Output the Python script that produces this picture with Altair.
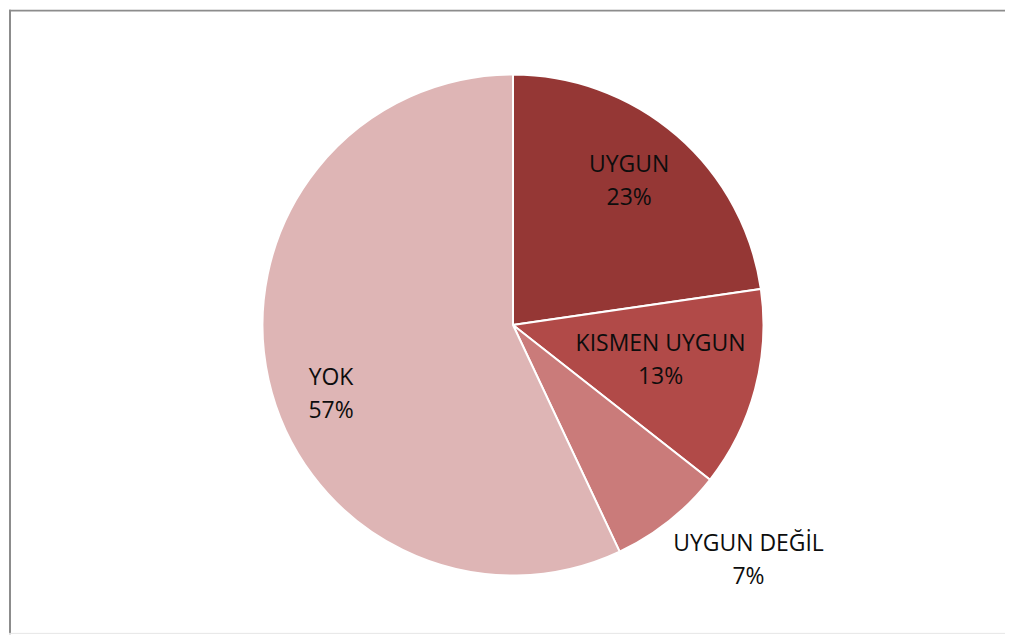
import altair as alt
import pandas as pd

categories = ["UYGUN", "KISMEN UYGUN", "UYGUN DEĞİL", "YOK"]
values = [22.7, 12.9, 7.4, 57.0]
colors = ["#953735", "#B14A48", "#CA7B7A", "#DEB5B5"]

total = sum(values)
labels = [f"{c}\n{round(v / total * 100)}%" for c, v in zip(categories, values)]
df = pd.DataFrame({"cat": categories, "val": values, "label": labels,
                   "order": list(range(len(categories)))})

CX, CY, R = 505, 316, 251
W, H = 998, 626

base = alt.Chart(df).encode(
    theta=alt.Theta("val:Q", stack=True),
    order=alt.Order("order:Q"),
)

shadow = alt.Chart(pd.DataFrame({"v": [1]})).mark_arc(
    outerRadius=R + 1.5, color="#cfcfcf"
).encode(theta=alt.Theta("v:Q"), x=alt.value(CX + 1), y=alt.value(CY + 1))

pie = base.mark_arc(outerRadius=R, stroke="white", strokeWidth=2).encode(
    color=alt.Color("cat:N", scale=alt.Scale(domain=categories, range=colors), legend=None),
    x=alt.value(CX), y=alt.value(CY),
)

label_style = dict(font="Open Sans", fontSize=23, lineBreak="\n", lineHeight=33,
                   color="#0d0d0d", align="center", baseline="middle")
# per-label radius and offsets (style)
label_pos = {
    "UYGUN": (184, -4, -21),
    "KISMEN UYGUN": (153, 0, -20),
    "UYGUN DEĞİL": (334, 28, -42),
    "YOK": (195, 8, 11),
}
text_layers = []
for cat, (r, dx, dy) in label_pos.items():
    text_layers.append(
        base.mark_text(radius=r, dx=dx, dy=dy, **label_style).encode(
            text="label:N", x=alt.value(CX), y=alt.value(CY),
            opacity=alt.condition(alt.datum.cat == cat, alt.value(1), alt.value(0)),
        )
    )

border_left = alt.Chart(pd.DataFrame({"v": [0]})).mark_rule(color="#8c8c8c", strokeWidth=2).encode(
    x=alt.value(1), y=alt.value(0), y2=alt.value(H))
border_top = alt.Chart(pd.DataFrame({"v": [0]})).mark_rule(color="#8c8c8c", strokeWidth=2).encode(
    x=alt.value(0), x2=alt.value(W), y=alt.value(1))
border_bottom = alt.Chart(pd.DataFrame({"v": [0]})).mark_rule(color="#e6e6e6", strokeWidth=1).encode(
    x=alt.value(0), x2=alt.value(W), y=alt.value(H - 1))

chart = alt.layer(shadow, pie, *text_layers, border_left, border_top, border_bottom).properties(
    width=W, height=H, padding=0, background="white"
).configure_view(stroke=None)

chart.save("out.html", embed_options={"renderer": "svg", "actions": False})
